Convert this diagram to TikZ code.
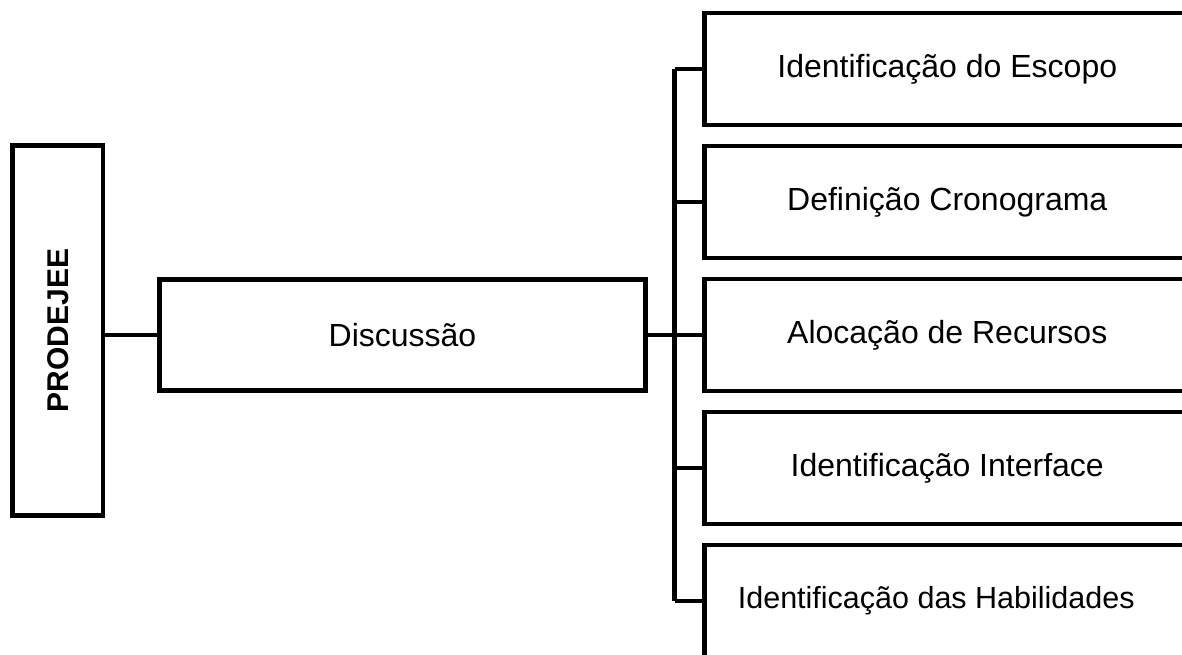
\documentclass[tikz,border=0pt]{standalone}
\usepackage{fontspec}
\setmainfont{Liberation Sans}
\begin{document}
\begin{tikzpicture}[x=1pt,y=-1pt,
  box/.style={draw=black,line width=4.5pt,rectangle,inner sep=0pt,
    minimum width=486pt,minimum height=112pt,font=\fontsize{32}{38}\selectfont},
  link/.style={draw=black,line width=4.5pt}]
  \useasboundingbox (0,0) rectangle (1182,654);
  \clip (0,0) rectangle (1182,654);

  % root box with vertical title
  \node[draw=black,line width=4.5pt,rectangle,inner sep=0pt,
        minimum width=90.5pt,minimum height=370pt] (prod) at (57.75,330.5) {};
  \node[rotate=90,font=\fontsize{30}{36}\bfseries\selectfont] (prodlbl) at (prod.center) {PRODEJEE};

  % second level
  \node[box,minimum height=111pt] (disc) at (402.5,335) {Discussão};

  % third level
  \node[box,anchor=west] (b1) at (702,69)  {Identificação do Escopo};
  \node[box,anchor=west] (b2) at (702,202) {Definição Cronograma};
  \node[box,anchor=west] (b3) at (702,335) {Alocação de Recursos};
  \node[box,anchor=west] (b4) at (702,468) {Identificação Interface};
  \node[box,anchor=west,font=\fontsize{30.5}{36}\selectfont] (b5) at (702,601)
       {\hspace*{-22pt}Identificação das Habilidades};

  % connectors
  \draw[link] (prod.east |- disc.west) -- (disc.west);
  \coordinate (hub) at (674.5,335);
  \draw[link] (disc.east) -- (hub);
  \draw[link] (hub |- b1.west) -- (hub |- b5.west);
  \foreach \b in {b1,b2,b3,b4,b5}
    \draw[link] (hub |- \b.west) -- (\b.west);
\end{tikzpicture}
\end{document}
